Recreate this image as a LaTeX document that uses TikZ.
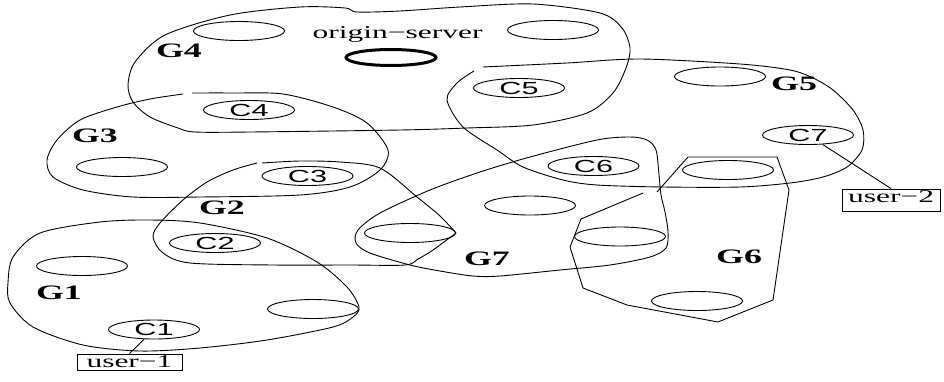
\documentclass[tikz,border=0pt]{standalone}
\usepackage{graphicx}
\usepackage{fontspec}
\setmainfont{Liberation Serif}
\newfontfamily\helv{Liberation Sans}
\usetikzlibrary{shapes.geometric}
% all labels are set wide, as in the original drawing
\newcommand{\stretchx}[1]{\scalebox{1.75}[1]{#1}}

\begin{document}
\begin{tikzpicture}[x=1pt,y=-1pt,
  grp/.style={draw, line width=0.9pt, line join=round},
  cell/.style={ellipse, draw, line width=0.9pt, inner sep=0pt,
    minimum width=91pt, minimum height=19pt, font=\helv\fontsize{17.5}{17.5}\selectfont},
  glabel/.style={inner sep=0pt, font=\bfseries\fontsize{20.5}{20.5}\selectfont},
  plain/.style={inner sep=0pt, font=\fontsize{18}{18}\selectfont},
  userbox/.style={draw, line width=0.9pt, inner sep=0pt, font=\fontsize{18}{18}\selectfont},
  link/.style={draw, line width=0.9pt}]
\fill[white] (0,0) rectangle (944,381);
\useasboundingbox (0,0) rectangle (944,381);

% ---- group outlines ----
% G4
\draw[grp] plot[smooth cycle] coordinates {(128,85) (135,62) (165,35) (230,15) (300,7) (345,8) (357,12)
  (400,11) (460,7) (533,4) (600,13) (622,28) (630,48) (626,68) (613,93) (587,113) (533,125)
  (467,128) (400,130) (250,132) (195,132) (178,128) (150,117) (133,102)};
% G3
\draw[grp] plot[smooth] coordinates {(192,93) (233,93) (283,94) (333,107) (367,123) (388,150) (380,170)
  (350,187) (300,195) (200,197) (133,197) (83,190) (53,177) (47,160) (57,140) (80,120)
  (117,107) (150,99) (183,94)};
% G2
\draw[grp] plot[smooth] coordinates {(262,163) (300,161) (340,162) (380,168) (417,197) (440,216) (456,233)};
\draw[grp] plot[smooth] coordinates {(456,233) (433,250) (418,259) (405,265) (350,265) (273,265)
  (190,263) (163,253) (153,237) (160,223) (183,200) (207,182) (233,170) (257,163)};
% G1
\draw[grp] plot[smooth cycle] coordinates {(100,222) (150,220) (200,223) (267,238) (317,262) (347,287)
  (359,307) (353,317) (333,327) (267,340) (200,348) (140,351) (83,345) (33,327) (10,303)
  (8,283) (13,257) (40,233)};
% G5
\draw[grp] plot[smooth] coordinates {(483,67) (567,63) (640,59) (740,64) (790,70) (813,78) (833,90)
  (853,110) (863,130) (862,150) (847,167) (823,177) (790,183) (740,187) (663,187) (597,185)
  (563,180) (523,167) (497,150) (463,127) (447,100) (457,83) (474,71)};
% G7
\draw[grp] plot[smooth cycle] coordinates {(410,265) (370,253) (356,243) (358,230) (380,213) (430,190)
  (480,172) (530,157) (597,140) (630,137) (647,140) (656,150) (659,175) (661,195) (665,212)
  (668,232) (666,248) (650,257) (610,265) (560,270) (500,276) (473,276) (440,271)};
% G6
\draw[grp, line join=miter] (643,193) -- (581,219) -- (570,247) -- (583,288) -- (627,305) -- (718,322)
  -- (773,300) -- (789,190) -- (777,157) -- (688,157) -- (657,192);

% ---- caches ----
\node[cell] (e41) at (239,31) {};
\node[cell, line width=3pt, minimum width=90pt, minimum height=16pt] (orig) at (391,57.5) {};
\node[plain, anchor=base] (origtxt) at (397.5,38) {\stretchx{origin−server}};
\node[cell] (e42) at (553,30) {};
\node[cell] (c4) at (249,110) {\stretchx{C4}};
\node[cell] (c5) at (519,88) {\stretchx{C5}};
\node[cell] (e51) at (720,76.5) {};
\node[cell] (c7) at (808,135) {\stretchx{C7}};
\node[cell] (c6) at (593.5,166) {\stretchx{C6}};
\node[cell] (e31) at (122,167) {};
\node[cell] (c3) at (307.5,176) {\stretchx{C3}};
\node[cell] (c2) at (215,243) {\stretchx{C2}};
\node[cell] (e11) at (82,266) {};
\node[cell] (e12) at (313,309) {};
\node[cell] (c1) at (154,329.5) {\stretchx{C1}};
\node[cell] (e71) at (530,205.5) {};
\node[cell] (e72) at (410,233) {};
\node[cell] (e61) at (620,236.5) {};
\node[cell] (e62) at (728,170) {};
\node[cell] (e63) at (697,301) {};

% ---- group names ----
\node[glabel] (g4) at (179,51) {\stretchx{G4}};
\node[glabel] (g3) at (95,136) {\stretchx{G3}};
\node[glabel] (g2) at (222,208) {\stretchx{G2}};
\node[glabel] (g1) at (59,293) {\stretchx{G1}};
\node[glabel] (g5) at (794,84) {\stretchx{G5}};
\node[glabel] (g6) at (739,257) {\stretchx{G6}};
\node[glabel] (g7) at (487,259) {\stretchx{G7}};

% ---- users ----
\node[userbox, minimum width=105pt, text height=13pt, text depth=3pt] (u1) at (129.5,362) {\stretchx{user−1}};
\node[userbox, minimum width=98pt, text height=13pt, text depth=9pt] (u2) at (891,200) {\stretchx{user−2}};
\draw[link] (u1.north) -- (c1);
\draw[link] (u2.north) -- (c7);
\end{tikzpicture}
\end{document}
